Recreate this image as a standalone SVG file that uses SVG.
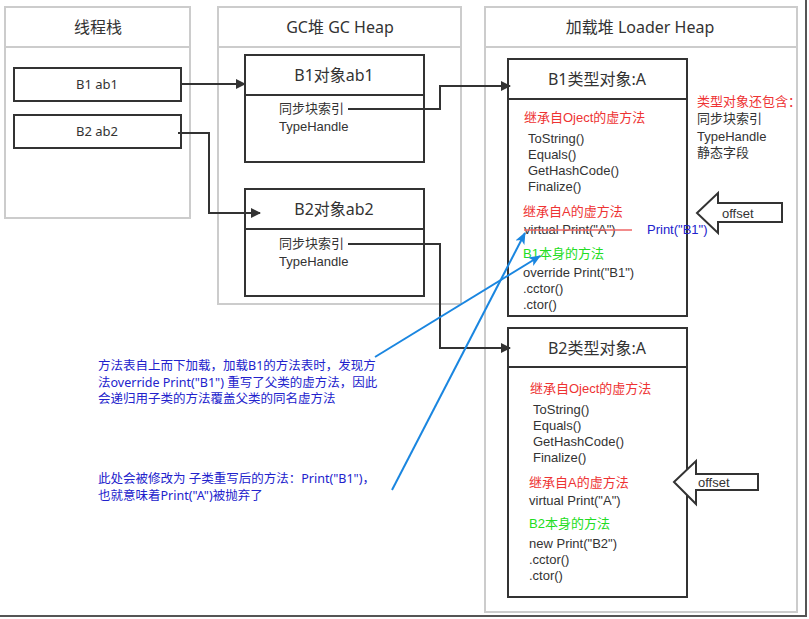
<svg xmlns="http://www.w3.org/2000/svg" width="809" height="619" viewBox="0 0 809 619">
<defs>
<style>
text{font-family:"Noto Sans","Noto Sans CJK SC",sans-serif;fill:#333;font-size:13px}
.s{font-family:"Liberation Sans","Noto Sans CJK SC",sans-serif;font-size:13px}
.lane{fill:#fff;stroke:#cccccc;stroke-width:2}
.box{fill:#fff;stroke:#333;stroke-width:2}
.h{font-size:16px;text-anchor:middle}
.t{font-size:16px;text-anchor:middle}
.red{fill:#ee3333}
.grn{fill:#22dd22}
.blu{fill:#2222cc;font-size:12.5px}
.con{fill:none;stroke:#333;stroke-width:2}
.bl{fill:none;stroke:#1a86e0;stroke-width:2}
.blk{fill:#fff;stroke:#333;stroke-width:2}
</style>
<marker id="ah" markerWidth="10" markerHeight="10" refX="9" refY="5" orient="auto" markerUnits="userSpaceOnUse"><path d="M0,0 L10,5 L0,10 Z" fill="#333"/></marker>
<marker id="ab" markerWidth="12" markerHeight="10" refX="11" refY="5" orient="auto" markerUnits="userSpaceOnUse"><path d="M0,0 L12,5 L0,10 L3,5 Z" fill="#1a86e0"/></marker>
</defs>
<rect width="809" height="619" fill="#fff"/>
<line x1="806" y1="0" x2="806" y2="617" stroke="#555" stroke-width="2"/>
<line x1="0" y1="616" x2="807" y2="616" stroke="#555" stroke-width="2"/>

<g id="lane-stack">
<rect class="lane" x="5" y="7" width="185" height="211"/>
<line x1="5" y1="47" x2="190" y2="47" stroke="#ccc" stroke-width="2"/>
<text class="h" x="98" y="33">线程栈</text>
</g>
<g id="lane-gc">
<rect class="lane" x="218" y="7" width="243" height="297"/>
<line x1="218" y1="47" x2="461" y2="47" stroke="#ccc" stroke-width="2"/>
<text class="h" x="340" y="33">GC堆 GC Heap</text>
</g>
<g id="lane-loader">
<rect class="lane" x="485" y="7" width="312" height="605"/>
<line x1="485" y1="47" x2="797" y2="47" stroke="#ccc" stroke-width="2"/>
<text class="h" x="640" y="33">加载堆 Loader Heap</text>
</g>

<g id="b1ab1">
<rect class="box" x="14" y="68" width="167" height="33"/>
<text x="97" y="89" text-anchor="middle" font-size="14">B1 ab1</text>
</g>
<g id="b2ab2">
<rect class="box" x="14" y="115" width="167" height="33"/>
<text x="97" y="136" text-anchor="middle" font-size="14">B2 ab2</text>
</g>

<g id="b1obj">
<rect class="box" x="245" y="55" width="179" height="107"/>
<line x1="245" y1="95" x2="424" y2="95" stroke="#333" stroke-width="2"/>
<text class="t" x="334" y="81">B1对象ab1</text>
<text class="s" x="279" y="113">同步块索引</text>
<text class="s" x="279" y="131">TypeHandle</text>
</g>
<g id="b2obj">
<rect class="box" x="245" y="189" width="179" height="107"/>
<line x1="245" y1="229" x2="424" y2="229" stroke="#333" stroke-width="2"/>
<text class="t" x="334" y="215">B2对象ab2</text>
<text class="s" x="279" y="248">同步块索引</text>
<text class="s" x="279" y="266">TypeHandle</text>
</g>

<g id="b1type">
<rect class="box" x="508" y="59" width="179" height="257"/>
<line x1="508" y1="99" x2="687" y2="99" stroke="#333" stroke-width="2"/>
<text class="t" x="597" y="85">B1类型对象:A</text>
<text class="s red" x="524" y="122">继承自Oject的虚方法</text>
<text class="s" x="528" y="143">ToString()</text>
<text class="s" x="528" y="159">Equals()</text>
<text class="s" x="528" y="175">GetHashCode()</text>
<text class="s" x="528" y="191">Finalize()</text>
<text class="s red" x="523" y="216">继承自A的虚方法</text>
<text class="s" x="524" y="234">virtual Print("A")</text>
<line x1="524" y1="230" x2="632" y2="230" stroke="#ee6666" stroke-width="1.5"/>
<text class="s grn" x="523" y="258">B1本身的方法</text>
<text class="s" x="523" y="277">override Print("B1")</text>
<text class="s" x="523" y="293">.cctor()</text>
<text class="s" x="523" y="309">.ctor()</text>
</g>
<g id="typeinfo">
<text class="s red" x="697" y="106">类型对象还包含：</text>
<text class="s" x="697" y="123">同步块索引</text>
<text class="s" x="697" y="141">TypeHandle</text>
<text class="s" x="697" y="157">静态字段</text>
</g>
<g id="offset1">
<path class="blk" d="M697,213 L718,193 L718,203 L782,203 L782,222 L718,222 L718,233 Z"/>
<text class="s" x="722" y="218">offset</text>
</g>
<text class="s" x="647" y="234" style="fill:#2222cc">Print("B1")</text>

<g id="b2type">
<rect class="box" x="508" y="328" width="179" height="269"/>
<line x1="508" y1="367" x2="687" y2="367" stroke="#333" stroke-width="2"/>
<text class="t" x="597" y="354">B2类型对象:A</text>
<text class="s red" x="530" y="393">继承自Oject的虚方法</text>
<text class="s" x="533" y="414">ToString()</text>
<text class="s" x="533" y="430">Equals()</text>
<text class="s" x="533" y="446">GetHashCode()</text>
<text class="s" x="533" y="462">Finalize()</text>
<text class="s red" x="529" y="487">继承自A的虚方法</text>
<text class="s" x="529" y="505">virtual Print("A")</text>
<text class="s grn" x="529" y="528">B2本身的方法</text>
<text class="s" x="529" y="548">new Print("B2")</text>
<text class="s" x="529" y="564">.cctor()</text>
<text class="s" x="529" y="580">.ctor()</text>
</g>
<g id="offset2">
<path class="blk" d="M674,482 L696,461 L696,474 L758,474 L758,490 L696,490 L696,504 Z"/>
<text class="s" x="698" y="487">offset</text>
</g>

<g id="notes">
<text class="blu" x="98" y="370">方法表自上而下加载，加载B1的方法表时，发现方</text>
<text class="blu" x="98" y="387">法override Print("B1") 重写了父类的虚方法，因此</text>
<text class="blu" x="98" y="403">会递归用子类的方法覆盖父类的同名虚方法</text>
<text class="blu" x="98" y="483">此处会被修改为 子类重写后的方法：Print("B1")，</text>
<text class="blu" x="98" y="500">也就意味着Print("A")被抛弃了</text>
</g>

<g id="connectors">
<path class="con" d="M181,84 L245,84" marker-end="url(#ah)"/>
<path class="con" d="M178,133 L209,133 L209,213 L260,213" marker-end="url(#ah)"/>
<path class="con" d="M348,109 L440,109 L440,86 L510,86" marker-end="url(#ah)"/>
<path class="con" d="M348,244 L440,244 L440,348 L510,348" marker-end="url(#ah)"/>
<path class="bl" d="M375,357 L540,256" marker-end="url(#ab)"/>
<path class="bl" d="M392,490 L525,233" marker-end="url(#ab)"/>
</g>
</svg>
